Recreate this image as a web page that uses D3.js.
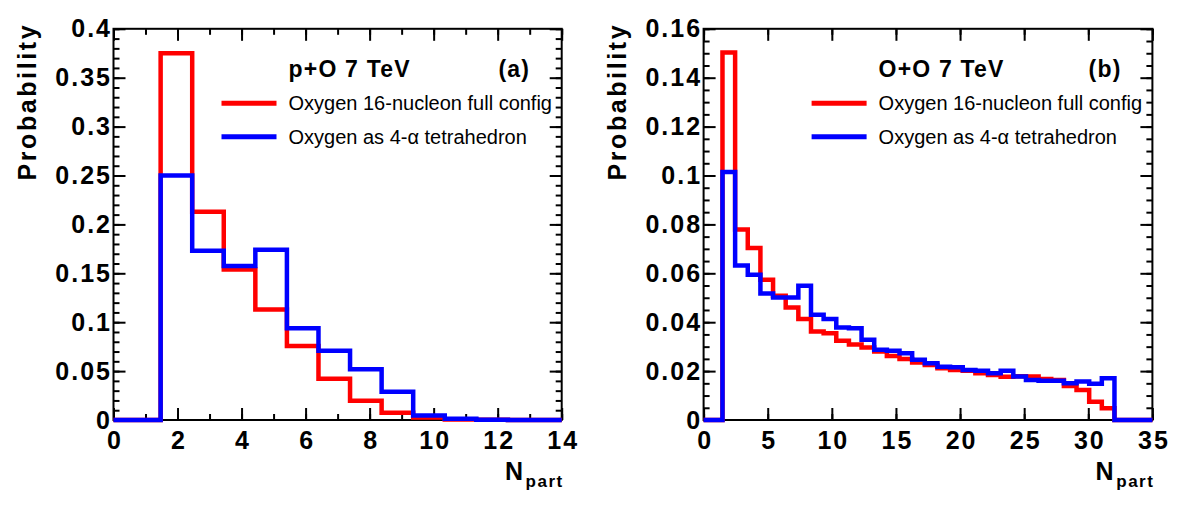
<!DOCTYPE html>
<html>
<head>
<meta charset="utf-8">
<script src="https://cdn.jsdelivr.net/npm/d3@7"></script>
<style>
body { margin: 0; background: #fff; }
svg { display: block; }
text { font-family: "Liberation Sans", Arial, Helvetica, sans-serif; fill: #000; }
.lab { font-weight: bold; font-size: 25px; letter-spacing: 2px; }
.ttl { font-weight: bold; font-size: 25px; letter-spacing: 2.6px; }
.head { font-weight: bold; font-size: 23px; letter-spacing: 1.2px; }
.leg { font-size: 20px; }
</style>
</head>
<body>
<svg width="1182" height="505"></svg>
<script>
// both histograms share one binning: 36 bins from -0.5 to 35
var binLo = -0.5, binHi = 35, nBins = 36;

// p+O 7 TeV, bins k = 0..14
var pO_full  = [0, 0, 0.375, 0.213, 0.154, 0.113, 0.0757, 0.0423, 0.0198, 0.0075, 0.0025, 0.0006, 0.0002, 0.0001, 0];
var pO_alpha = [0, 0, 0.250, 0.173, 0.1575, 0.174, 0.0938, 0.0709, 0.0518, 0.029, 0.0045, 0.0012, 0.0003, 0.0001, 0];

// O+O 7 TeV, bins k = 0..35
var OO_full  = [0, 0, 0.1503, 0.0779, 0.0703, 0.0574, 0.0508, 0.046, 0.0413, 0.0362,
  0.0355, 0.0324, 0.0309, 0.0297, 0.028, 0.0262, 0.0249, 0.0235, 0.0225, 0.0212,
  0.0205, 0.0201, 0.0191, 0.0184, 0.0177, 0.0179, 0.0178, 0.0168, 0.0164, 0.0139,
  0.0123, 0.0075, 0.0048, 0, 0, 0];
var OO_alpha = [0, 0, 0.1014, 0.0632, 0.0594, 0.0517, 0.0501, 0.0501, 0.0549, 0.043,
  0.0413, 0.0378, 0.0375, 0.0328, 0.0287, 0.0283, 0.0273, 0.0246, 0.0232, 0.0218,
  0.0216, 0.0205, 0.0201, 0.0191, 0.0201, 0.0178, 0.0164, 0.0161, 0.0161, 0.015,
  0.0157, 0.0148, 0.0171, 0, 0, 0];

// axis ticks
var xTicksA = [0, 2, 4, 6, 8, 10, 12, 14];
var yTicksA = [0, 0.05, 0.1, 0.15, 0.2, 0.25, 0.3, 0.35, 0.4];
var xTicksB = [0, 5, 10, 15, 20, 25, 30, 35];
var yTicksB = [0, 0.02, 0.04, 0.06, 0.08, 0.1, 0.12, 0.14, 0.16];

var legendNames = ["Oxygen 16-nucleon full config", "Oxygen as 4-\u03b1 tetrahedron"];
var colors = ["#ff0000", "#0000ff"];

var svg = d3.select("svg");
var frameTop = 28.8, frameBottom = 420;

var edges = d3.range(nBins + 1).map(function (k) { return binLo + k * (binHi - binLo) / nBins; });

var panels = [
  { id: "a", x0: 113.5, x1: 561.7, xTicks: xTicksA, yTicks: yTicksA, xMinor: 1, yMinor: 0.01,
    series: [pO_full, pO_alpha], head: "p+O 7 TeV", tag: "(a)" },
  { id: "b", x0: 703.6, x1: 1152.4, xTicks: xTicksB, yTicks: yTicksB, xMinor: 5, yMinor: 0.005,
    series: [OO_full, OO_alpha], head: "O+O 7 TeV", tag: "(b)" }
];

function fmt(d) { return d === 0 ? "0" : String(+d.toFixed(3)); }

panels.forEach(function (p) {
  var xMax = p.xTicks[p.xTicks.length - 1], yMax = p.yTicks[p.yTicks.length - 1];
  var x = d3.scaleLinear().domain([0, xMax]).range([p.x0, p.x1]);
  var y = d3.scaleLinear().domain([0, yMax]).range([frameBottom, frameTop]);
  var g = svg.append("g");

  // frame
  g.append("rect").attr("x", p.x0).attr("y", frameTop)
    .attr("width", p.x1 - p.x0).attr("height", frameBottom - frameTop)
    .attr("fill", "none").attr("stroke", "#000").attr("stroke-width", 2);

  var yMinorVals = d3.range(0, yMax + 1e-9, p.yMinor);
  var xMinorVals = d3.range(0, xMax + 1e-9, p.xMinor);

  function tickAxis(axis, tr) {
    var a = g.append("g").attr("transform", tr).call(axis);
    a.select(".domain").remove();
    a.selectAll("line").attr("stroke", "#000").attr("stroke-width", 2);
    return a;
  }
  // minor ticks on all four sides
  tickAxis(d3.axisLeft(y).tickValues(yMinorVals).tickSize(-6).tickFormat(""), "translate(" + p.x0 + ",0)");
  tickAxis(d3.axisRight(y).tickValues(yMinorVals).tickSize(-6).tickFormat(""), "translate(" + p.x1 + ",0)");
  tickAxis(d3.axisBottom(x).tickValues(xMinorVals).tickSize(-6).tickFormat(""), "translate(0," + frameBottom + ")");
  tickAxis(d3.axisTop(x).tickValues(xMinorVals).tickSize(-6).tickFormat(""), "translate(0," + frameTop + ")");
  // major ticks
  tickAxis(d3.axisRight(y).tickValues(p.yTicks).tickSize(-12).tickFormat(""), "translate(" + p.x1 + ",0)");
  tickAxis(d3.axisTop(x).tickValues(p.xTicks).tickSize(-12).tickFormat(""), "translate(0," + frameTop + ")");
  var ya = tickAxis(d3.axisLeft(y).tickValues(p.yTicks).tickSize(-12).tickPadding(1.5).tickFormat(fmt), "translate(" + p.x0 + ",0)");
  ya.selectAll("text").attr("class", "lab").attr("font-family", null).attr("font-size", null).attr("fill", null);
  var xa = tickAxis(d3.axisBottom(x).tickValues(p.xTicks).tickSize(-12).tickPadding(11).tickFormat(fmt), "translate(0," + frameBottom + ")");
  xa.selectAll("text").attr("class", "lab").attr("font-family", null).attr("font-size", null).attr("fill", null)
    .attr("dx", "1px");
  ya.attr("font-family", null).attr("font-size", null);
  xa.attr("font-family", null).attr("font-size", null);

  // axis titles
  g.append("text").attr("class", "ttl")
    .attr("transform", "translate(" + (p.x0 - 77.5) + "," + (frameTop - 6) + ") rotate(-90)")
    .attr("text-anchor", "end").text("Probability");
  var nt = g.append("text").attr("class", "ttl").attr("x", p.x1 + 2).attr("y", 480).attr("text-anchor", "end");
  nt.append("tspan").text("N");
  nt.append("tspan").attr("dy", 7).style("font-size", "17px").style("letter-spacing", "1.5px").text("part");

  // histograms
  var clipId = "clip" + p.id;
  svg.append("clipPath").attr("id", clipId).append("rect")
    .attr("x", p.x0).attr("y", frameTop - 10).attr("width", p.x1 - p.x0).attr("height", frameBottom - frameTop + 20);
  var line = d3.line().curve(d3.curveStepAfter)
    .x(function (d) { return x(d[0]); }).y(function (d) { return y(d[1]); });
  p.series.forEach(function (vals, i) {
    var pts = vals.map(function (v, k) { return [edges[k], v]; });
    pts.push([edges[vals.length], vals[vals.length - 1]]);
    g.append("path").attr("d", line(pts)).attr("clip-path", "url(#" + clipId + ")")
      .attr("fill", "none").attr("stroke", colors[i]).attr("stroke-width", 4.5)
      .attr("stroke-linejoin", "miter").attr("stroke-linecap", "square");
  });

  // header and legend
  var lx = p.x0 + 108;
  g.append("text").attr("class", "head").attr("x", p.x0 + 175).attr("y", 77).text(p.head);
  g.append("text").attr("class", "head").attr("x", p.x0 + 385).attr("y", 77).text(p.tag);
  legendNames.forEach(function (name, i) {
    var ly = 103.3 + i * 33.4;
    g.append("line").attr("x1", lx).attr("x2", lx + 55).attr("y1", ly).attr("y2", ly)
      .attr("stroke", colors[i]).attr("stroke-width", 5);
    g.append("text").attr("class", "leg").attr("x", p.x0 + 175).attr("y", ly + 7).text(name);
  });
});
</script>
</body>
</html>
